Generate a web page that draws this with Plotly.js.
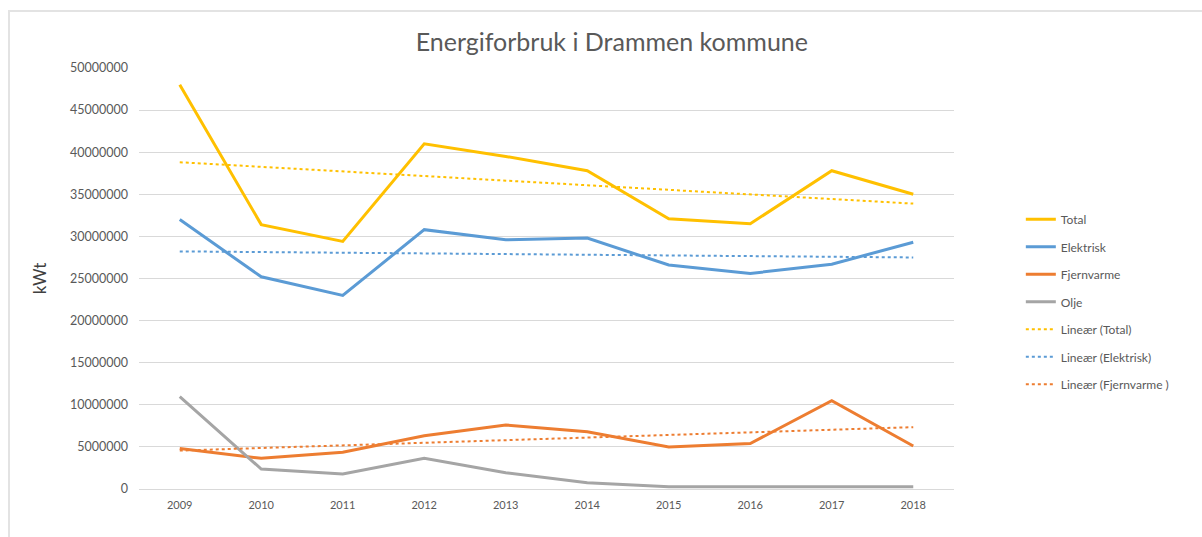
<!DOCTYPE html>
<html>
<head>
<meta charset="utf-8">
<script src="https://cdn.plot.ly/plotly-3.0.1.min.js"></script>
<style>
  html, body { margin: 0; padding: 0; background: #ffffff; }
  #frame { position: absolute; left: 8px; top: 10px; width: 1300px; height: 600px;
           border-left: 2px solid #e3e3e3; border-top: 2px solid #e3e3e3; pointer-events: none; z-index: 5; }
  #chart { position: absolute; left: 0; top: 0; width: 1202px; height: 537px; }
</style>
</head>
<body>
<div id="chart"></div>
<div id="frame"></div>
<script>
const years = ['2009','2010','2011','2012','2013','2014','2015','2016','2017','2018'];
const total = [48000000, 31400000, 29400000, 41000000, 39500000, 37800000, 32100000, 31500000, 37800000, 35000000];
const elektrisk = [32000000, 25200000, 23000000, 30800000, 29600000, 29800000, 26600000, 25600000, 26700000, 29300000];
const fjernvarme = [4800000, 3650000, 4360000, 6330000, 7600000, 6800000, 5000000, 5400000, 10500000, 5100000];
const olje = [10960000, 2370000, 1780000, 3640000, 1940000, 750000, 270000, 270000, 270000, 270000];
const yTicks = [0, 5000000, 10000000, 15000000, 20000000, 25000000, 30000000, 35000000, 40000000, 45000000, 50000000];

// Linear trend (least squares over index), as Excel's "Lineær" trendline
function linearTrend(vals) {
  const n = vals.length;
  let sx = 0, sy = 0, sxx = 0, sxy = 0;
  vals.forEach((v, i) => { sx += i; sy += v; sxx += i * i; sxy += i * v; });
  const b = (n * sxy - sx * sy) / (n * sxx - sx * sx);
  const a = (sy - b * sx) / n;
  return vals.map((_, i) => a + b * i);
}

const cTotal = '#FFC000', cEl = '#5B9BD5', cFj = '#ED7D31', cOl = '#A5A5A5';
const font = 'Lato, "Open Sans", sans-serif';

function solid(name, y, color, g, rank) {
  return { type: 'scatter', mode: 'lines', name, x: years, y, legendgroup: g, legendrank: rank,
           line: { color, width: 3 }, hoverinfo: 'skip' };
}
function trend(name, y, color, g, rank) {
  return { type: 'scatter', mode: 'lines', name, x: years, y: linearTrend(y), legendgroup: g, legendrank: rank,
           line: { color, width: 2, dash: 'dot' }, hoverinfo: 'skip' };
}

const data = [
  solid('Total', total, cTotal, 'g1', 1),
  solid('Elektrisk', elektrisk, cEl, 'g2', 2),
  solid('Fjernvarme', fjernvarme, cFj, 'g3', 3),
  solid('Olje', olje, cOl, 'g4', 4),
  trend('Lineær (Total)', total, cTotal, 'g5', 5),
  trend('Lineær (Elektrisk)', elektrisk, cEl, 'g6', 6),
  trend('Lineær (Fjernvarme )', fjernvarme, cFj, 'g7', 7)
];

const layout = {
  width: 1202, height: 537,
  paper_bgcolor: '#ffffff', plot_bgcolor: '#ffffff',
  margin: { l: 139, r: 248, t: 68, b: 48, pad: 0 },
  font: { family: font, color: '#595959', size: 12 },
  title: { text: 'Energiforbruk i Drammen kommune', font: { family: font, size: 25, color: '#595959' },
           xref: 'container', yref: 'container', x: 0.509, y: 0.922, xanchor: 'center', yanchor: 'middle' },
  xaxis: { type: 'category', categoryorder: 'array', categoryarray: years, tickvals: years, ticktext: years,
           showgrid: false, zeroline: false,
           showline: false, ticks: '', tickfont: { size: 11, color: '#595959' }, ticklabelstandoff: 8,
           range: [-0.5, years.length - 0.5], fixedrange: true },
  yaxis: { range: [0, 50000000], tickvals: yTicks, ticktext: yTicks.map(String),
           showgrid: true, gridcolor: '#d9d9d9', gridwidth: 1, zeroline: true, zerolinecolor: '#d9d9d9',
           zerolinewidth: 1, showline: false, ticks: '', tickfont: { size: 12.5, color: '#595959' },
           ticklabelstandoff: 10, fixedrange: true,
           title: { text: 'kWt', font: { size: 17, color: '#404040' }, standoff: 19 } },
  legend: { x: 1.082, xanchor: 'left', y: 0.675, yanchor: 'top', traceorder: 'grouped', tracegroupgap: 8.5,
            font: { size: 12, color: '#595959' }, bgcolor: 'rgba(0,0,0,0)' },
  showlegend: true
};

Plotly.newPlot('chart', data, layout, { displayModeBar: false, staticPlot: true });
</script>
</body>
</html>
